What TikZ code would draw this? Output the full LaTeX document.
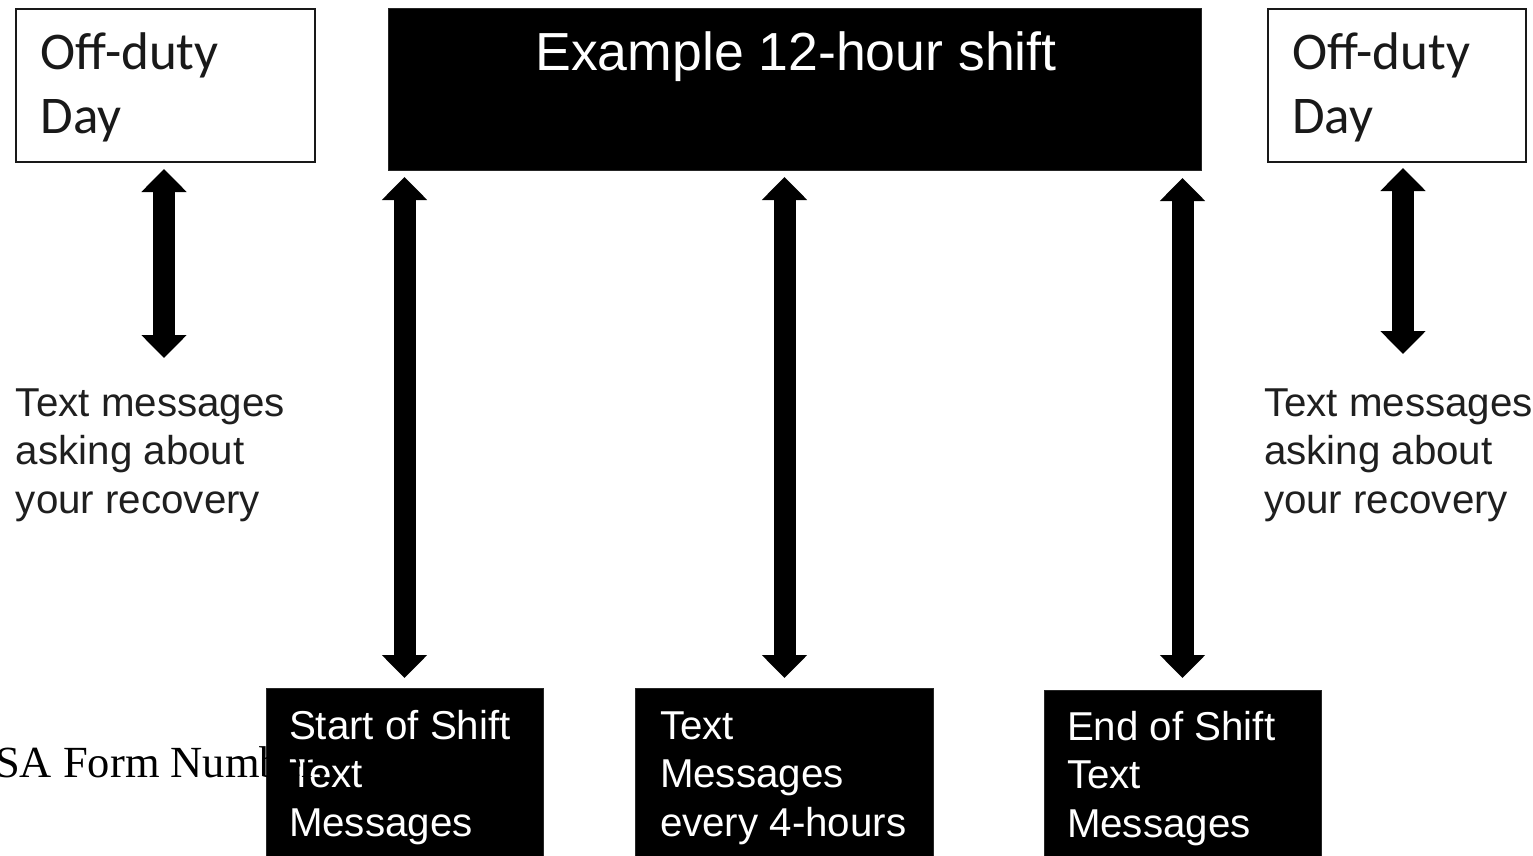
\documentclass[tikz,border=0pt]{standalone}
\usepackage{fontspec}
\usetikzlibrary{arrows.meta}
\newfontfamily\arialf{Liberation Sans}
\newfontfamily\calibf{Carlito}
\newfontfamily\tnrf{Liberation Serif}
\newcommand\firstln[1]{\rule{0pt}{#1}}
\tikzset{
  offbox/.style={draw=black!90, line width=2.5pt, fill=white, minimum width=299pt, minimum height=153pt, inner sep=0pt, outer sep=0pt},
  blackbox/.style={fill=black, draw=black!85, line width=1pt, inner sep=0pt, outer sep=0pt},
  smalltext/.style={font=\arialf\fontsize{40.3}{48.5}\selectfont, align=left, inner sep=0pt, outer sep=0pt, anchor=north west},
  offtext/.style={font=\calibf\fontsize{53}{64}\selectfont, align=left, inner sep=0pt, outer sep=0pt, anchor=north west, text=black!90},
  dbl/.style={line width=22pt, {Triangle[width=44pt,length=23pt]}-{Triangle[width=44pt,length=23pt]}}
}
\begin{document}
\begin{tikzpicture}[x=1pt,y=-1pt]
\useasboundingbox (0,0) rectangle (1533,856);
\clip (0,0) rectangle (1533,856);
\fill[white] (0,0) rectangle (1533,856);

% top boxes
\node[offbox] (lbox) at (165.5,85.5) {};
\node[offbox, minimum width=258pt] (rbox) at (1397,85.5) {};
\node[blackbox, minimum width=813pt, minimum height=161pt] (shift) at (794.5,89.5) {};
\node[anchor=base, text=white, inner sep=0pt, font=\arialf\fontsize{53.6}{60}\selectfont] (title) at (796,71) {Example 12-hour shift};

\node[offtext] (ltitle) at (40.5,25) {\firstln{45pt}Off-duty\\Day};
\node[offtext] (rtitle) at (1292,25) {\firstln{45pt}Off-duty\\Day};

% side texts
\node[smalltext, text=black!88] (ltext) at (16,376) {\firstln{40pt}Text messages\\asking about\\your recovery};
\node[smalltext, text=black!88] (rtext) at (1264,376) {\firstln{40pt}Text messages\\asking about\\your recovery};

% bottom boxes
\node[blackbox, minimum width=277pt, minimum height=182pt] (b1) at (404.5,779) {};
\node[blackbox, minimum width=298pt, minimum height=182pt] (b2) at (784.5,779) {};
\node[blackbox, minimum width=277pt, minimum height=180pt] (b3) at (1182.5,780) {};

\node[smalltext, text=white] (t1) at (289,699) {\firstln{40pt}Start of Shift\\Text\\Messages};
\node[smalltext, text=white] (t2) at (660,699) {\firstln{40pt}Text\\Messages\\every 4-hours};
\node[smalltext, text=white] (t3) at (1067,700) {\firstln{40pt}End of Shift\\Text\\Messages};

% serif text overlapping
\node[anchor=base west, inner sep=0pt, font=\tnrf\fontsize{44.5}{50}\selectfont] (form) at (-5,777) {SA Form Number:};

% arrows
\coordinate (xa) at (164,0);
\coordinate (xb) at (1403,0);
\draw[dbl, shorten <=7pt, shorten >=18pt] (lbox.south -| xa) -- (ltext.north -| xa);
\draw[dbl, shorten <=6pt, shorten >=22pt] (rbox.south -| xb) -- (rtext.north -| xb);
\draw[dbl, shorten <=10pt, shorten >=7pt] (b1.north) -- (b1.north |- shift.south);
\draw[dbl, shorten <=10pt, shorten >=7pt] (b2.north) -- (b2.north |- shift.south);
\draw[dbl, shorten <=12pt, shorten >=8pt] (b3.north) -- (b3.north |- shift.south);
\end{tikzpicture}
\end{document}
